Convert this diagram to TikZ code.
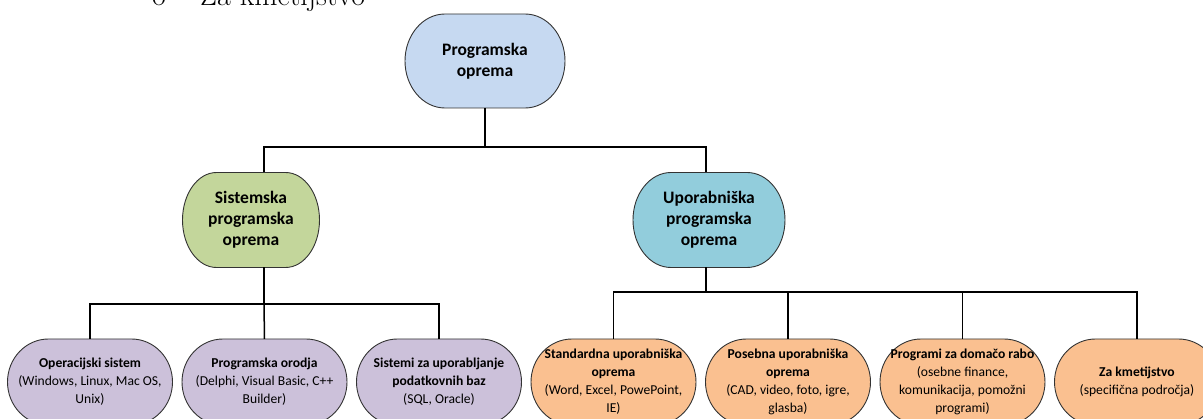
\documentclass[tikz,border=0pt]{standalone}
\usepackage{fontspec}
\newfontfamily\calib{Carlito}
\usetikzlibrary{calc,backgrounds}

\definecolor{cTop}{HTML}{C6D9F1}
\definecolor{cSys}{HTML}{C3D69B}
\definecolor{cApp}{HTML}{92CDDC}
\definecolor{cSysLeaf}{HTML}{CCC1DA}
\definecolor{cAppLeaf}{HTML}{FAC090}
\definecolor{edge}{HTML}{333333}

% pill outline: flat top and bottom, elliptical ends of horizontal radius #3
\newcommand\pillshape[3]{%
  \path[fill=#2, draw=edge, line width=0.9pt]
    let \p1=(#1.north west), \p2=(#1.south east), \n1={(\y1-\y2)/2} in
    (\x1+#3pt,\y1) -- (\x2-#3pt,\y1)
    arc[start angle=90, end angle=-90, x radius=#3pt, y radius=\n1]
    -- (\x1+#3pt,\y2)
    arc[start angle=270, end angle=90, x radius=#3pt, y radius=\n1] -- cycle;
}

\tikzset{
  box/.style={inner sep=0pt, outer sep=0pt, align=center},
  bigbox/.style={box, font=\calib\bfseries\fontsize{17.5}{21}\selectfont,
    minimum height=95pt},
  leaf/.style={box, font=\calib\fontsize{13.6}{18}\selectfont,
    minimum width=165pt, minimum height=86pt},
  link/.style={draw=black, line width=1.5pt},
}

\begin{document}
\begin{tikzpicture}[x=1pt, y=1pt]
\useasboundingbox (0,0) rectangle (1203,-419);
\clip (0,0) rectangle (1203,-419);

% last line of the list above the chart
\node[anchor=base west, inner sep=0pt, font=\fontsize{30}{36}\selectfont] (bullet) at (152,-6) {o};
\node[anchor=base west, inner sep=0pt, font=\fontsize{30}{36}\selectfont] (item) at (200,-6) {Za kmetijstvo};

% root
\node[bigbox, minimum width=160pt, minimum height=94pt] (root) at (485,-61) {Programska\\oprema};

% second level
\node[bigbox, minimum width=137pt] (sys) at (251,-220) {Sistemska\\programska\\oprema};
\node[bigbox, minimum width=152pt] (app) at (709,-220) {Uporabniška\\programska\\oprema};

% leaves
\node[leaf] (l1) at (90,-382) {\textbf{Operacijski sistem}\\(Windows, Linux, Mac OS,\\Unix)};
\node[leaf] (l2) at (264.5,-382) {\textbf{Programska orodja}\\(Delphi, Visual Basic, C++\\Builder)};
\node[leaf] (l3) at (439,-382) {\textbf{Sistemi za uporabljanje}\\\textbf{podatkovnih baz}\\(SQL, Oracle)};
\node[leaf] (l4) at (613.5,-382) {\textbf{Standardna uporabniška}\\\textbf{oprema}\\(Word, Excel, PowePoint,\\IE)};
\node[leaf] (l5) at (788,-382) {\textbf{Posebna uporabniška}\\\textbf{oprema}\\(CAD, video, foto, igre,\\glasba)};
\node[leaf] (l6) at (962.5,-382) {\textbf{Programi za domačo rabo}\\(osebne finance,\\komunikacija, pomožni\\programi)};
\node[leaf] (l7) at (1137,-382) {\textbf{Za kmetijstvo}\\(specifična področja)};

\begin{scope}[on background layer]
  \pillshape{root}{cTop}{40}
  \pillshape{sys}{cSys}{34}
  \pillshape{app}{cApp}{38}
  \foreach \nd in {l1,l2,l3}{\pillshape{\nd}{cSysLeaf}{41}}
  \foreach \nd in {l4,l5,l6,l7}{\pillshape{\nd}{cAppLeaf}{41}}
\end{scope}

% connector joints
\coordinate (sysIn) at ($(sys.north)+(13,0)$);
\coordinate (sysOut) at ($(sys.south)+(13,0)$);
\coordinate (appIn) at ($(app.north)+(-3,0)$);
\coordinate (appOut) at ($(app.south)+(-3,0)$);

% root to second level
\draw[link] (root.south) -- ++(0,-39) coordinate (j0);
\draw[link] (sysIn) |- (j0) -| (appIn);

% system branch
\draw[link] (sysOut) -- (sysOut |- 0,-304) coordinate (j1);
\draw[link] (l1.north) |- (j1) -| (l3.north);
\draw[link] (j1) -- (l2.north);

% application branch
\draw[link] (appOut) -- (appOut |- 0,-292) coordinate (j2);
\draw[link] (l4.north) |- (j2) -| (l7.north);
\draw[link] (l5.north) -- (l5.north |- j2);
\draw[link] (l6.north) -- (l6.north |- j2);
\end{tikzpicture}
\end{document}
